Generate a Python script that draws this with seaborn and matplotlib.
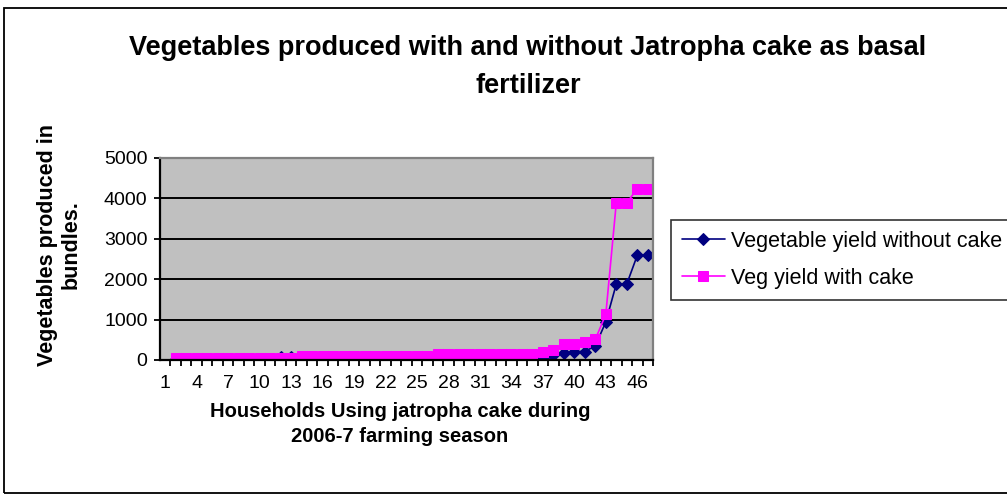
import matplotlib
matplotlib.use("Agg")
import matplotlib.pyplot as plt
import matplotlib.patches as patches
import numpy as np
import pandas as pd
import seaborn as sns

# households 1..47 (first category has no value)
households = list(range(1, 48))
yield_without_cake = [np.nan] + [20] * 10 + [70] * 2 + [40] * 13 + [50] * 10 + [
    60, 120, 165, 210, 210, 350, 940, 1880, 1880, 2590, 2590]
yield_with_cake = [np.nan] + [50] * 12 + [100] * 13 + [150] * 10 + [
    200, 250, 390, 390, 440, 510, 1130, 3890, 3890, 4240, 4240]
x_labels = list(range(1, 48, 3))
y_ticks = [0, 1000, 2000, 3000, 4000, 5000]

df = pd.DataFrame({
    "household": households,
    "Vegetable yield without cake": yield_without_cake,
    "Veg yield with cake": yield_with_cake,
})

sns.set_style("white")
plt.rcParams["font.family"] = ["Liberation Sans", "DejaVu Sans"]
plt.rcParams["text.color"] = "black"
plt.rcParams["xtick.color"] = "black"
plt.rcParams["ytick.color"] = "black"

W, H = 1007, 499
fig = plt.figure(figsize=(W / 100, H / 100), dpi=100)
ax = fig.add_axes([160 / W, 1 - 360 / H, 493 / W, 202 / H])
ax.set_facecolor("#C0C0C0")

sns.lineplot(data=df, x="household", y="Vegetable yield without cake", ax=ax,
             color="#000080", marker="D", markersize=6.5, markeredgecolor="#000080",
             linewidth=1.2, label="Vegetable yield without cake")
sns.lineplot(data=df, x="household", y="Veg yield with cake", ax=ax,
             color="#FF00FF", marker="s", markersize=7.4, markeredgecolor="#FF00FF",
             linewidth=1.2, label="Veg yield with cake")

ax.set_xlim(0.5, 47.5)
ax.set_ylim(0, 5000)
ax.set_yticks(y_ticks)
ax.set_yticklabels([str(v) for v in y_ticks], fontsize=14, color="black")
ax.set_xticks(x_labels)
ax.set_xticklabels([str(v) for v in x_labels], fontsize=14, color="black")
ax.set_xticks(np.arange(1.5, 48, 1), minor=True)
ax.tick_params(axis="x", which="major", length=0, pad=11)
ax.tick_params(axis="x", which="minor", length=4, width=1.3, color="black", direction="out")
ax.tick_params(axis="y", length=4, width=1.3, color="black", direction="out", pad=5)
ax.xaxis.set_ticks_position("bottom")
ax.yaxis.set_ticks_position("left")

for v in y_ticks[1:-1]:
    ax.axhline(v, color="black", linewidth=1.4, zorder=1)

for side in ["left", "bottom"]:
    ax.spines[side].set_color("black")
    ax.spines[side].set_linewidth(1.6)
for side in ["top", "right"]:
    ax.spines[side].set_color("#808080")
    ax.spines[side].set_linewidth(1.6)

ax.set_xlabel("")
ax.set_ylabel("")

fig.text(400 / W, 1 - 424 / H, "Households Using jatropha cake during\n2006-7 farming season",
         ha="center", va="center", fontsize=14.5, fontweight="bold", linespacing=1.45,
         color="black")
fig.text(59 / W, 1 - 245 / H, "Vegetables produced in\nbundles.", rotation=90,
         ha="center", va="center", fontsize=15.5, fontweight="bold", linespacing=1.15,
         color="black")

fig.text(528 / W, 1 - 67 / H,
         "Vegetables produced with and without Jatropha cake as basal\nfertilizer",
         ha="center", va="center", fontsize=19.5, fontweight="bold", linespacing=1.6,
         color="black")

leg = ax.legend(loc="upper left", bbox_to_anchor=(671 / W, 1 - 220 / H),
                bbox_transform=fig.transFigure, fontsize=15.5, frameon=True,
                fancybox=False, edgecolor="black", handlelength=2.0,
                borderaxespad=0, borderpad=0.5, labelspacing=0.75, handletextpad=0.3,
                labelcolor="black")
leg.get_frame().set_linewidth(1.2)

fig.patches.append(patches.Rectangle((4 / W, 6 / H), 1010 / W, 485 / H,
                                     transform=fig.transFigure, fill=False,
                                     edgecolor="black", linewidth=1.3))

fig.savefig("out.png", dpi=100)
